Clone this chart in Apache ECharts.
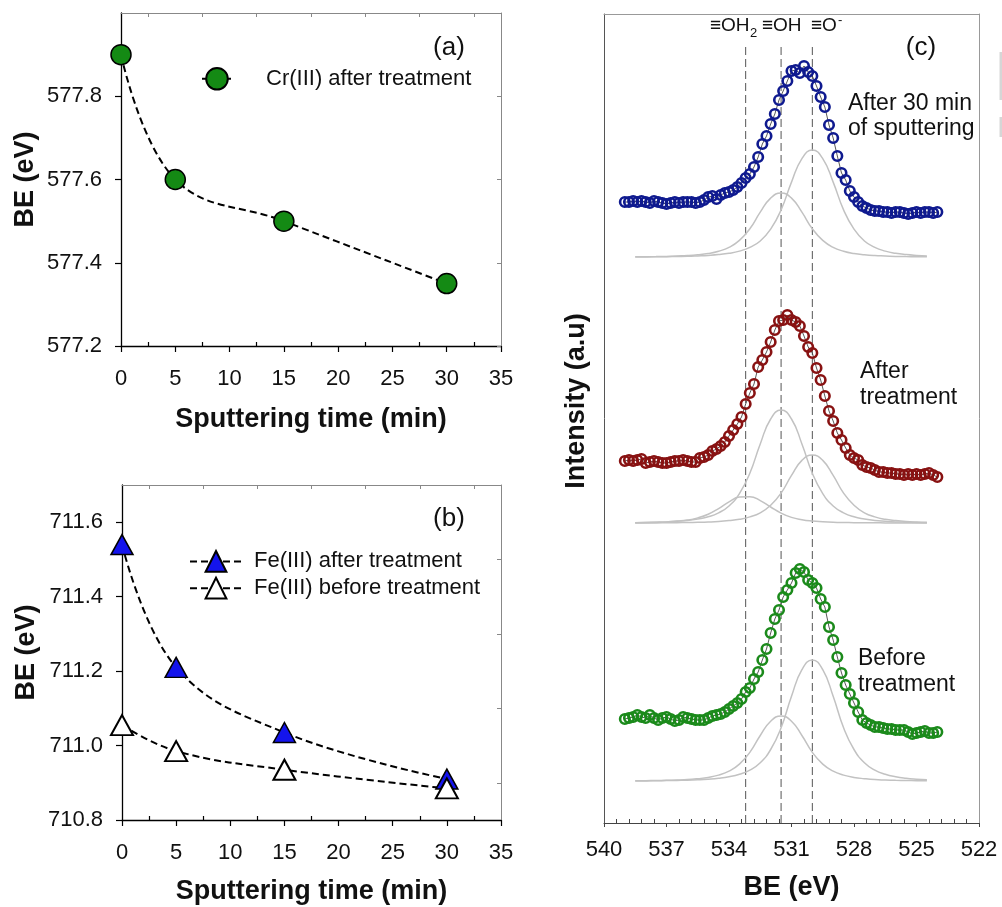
<!DOCTYPE html>
<html><head><meta charset="utf-8">
<script src="https://cdn.jsdelivr.net/npm/echarts@6/dist/echarts.min.js"></script>
<style>html,body{margin:0;padding:0;background:#fff}#c{width:1002px;height:907px}</style>
</head><body><div id="c"></div>
<script>
const FONT = '"Liberation Sans", Arial, sans-serif';

// ---- panel (a) ----
const sputterTime = [0, 5, 15, 30];
const crAfter = [577.90, 577.60, 577.50, 577.35];

// ---- panel (b) ----
const feAfter = [711.54, 711.21, 711.035, 710.91];
const feBefore = [711.055, 710.985, 710.935, 710.885];

// ---- panel (c) : O 1s spectra (arbitrary intensity, stacked) ----
const energies = [
  539.0,538.8,538.6,538.4,538.2,538.0,537.8,537.6,537.4,537.2,
  537.0,536.8,536.6,536.4,536.2,536.0,535.8,535.6,535.4,535.2,
  535.0,534.8,534.6,534.4,534.2,534.0,533.8,533.6,533.4,533.2,
  533.0,532.8,532.6,532.4,532.2,532.0,531.8,531.6,531.4,531.2,
  531.0,530.8,530.6,530.4,530.2,530.0,529.8,529.6,529.4,529.2,
  529.0,528.8,528.6,528.4,528.2,528.0,527.8,527.6,527.4,527.2,
  527.0,526.8,526.6,526.4,526.2,526.0,525.8,525.6,525.4,525.2,
  525.0,524.8,524.6,524.4,524.2,524.0];
const spec30min = [
  621,621,622,621,622,621,620,622,621,620,
  619,620,621,620,621,621,621,620,621,623,
  626,627,624,628,630,631,633,636,640,645,
  649,656,666,679,687,699,709,723,732,742,
  752,753,750,757,751,747,737,726,716,698,
  685,667,650,643,632,626,621,617,615,613,
  612,612,611,611,610,611,611,610,609,610,
  611,610,611,611,610,611];
const specAfter = [
  362,363,362,363,364,360,361,362,361,360,
  360,361,362,362,363,362,361,361,365,366,
  368,372,374,377,381,387,393,399,406,419,
  430,439,456,463,471,481,493,502,503,508,
  503,501,497,487,476,470,455,443,427,412,
  402,390,383,375,368,365,363,358,356,355,
  353,351,351,350,350,349,349,348,349,348,
  349,348,349,350,348,346];
const specBefore = [
  104,105,106,108,106,105,108,105,103,105,
  106,104,102,103,106,105,104,103,103,103,
  105,107,108,109,111,114,117,120,124,131,
  135,144,151,163,174,190,204,213,226,233,
  240,250,254,251,243,240,235,224,216,196,
  183,166,150,138,129,120,111,103,100,98,
  96,96,95,94,94,93,93,93,91,89,
  90,91,92,90,90,91];

// fitted components (height above each spectrum's fit baseline)
const fitEnergies = [538.5,538.0,537.5,537.0,536.5,536.0,535.5,535.0,534.5,534.0,
  533.5,533.0,532.5,532.0,531.5,531.0,530.5,530.0,529.5,529.0,
  528.5,528.0,527.5,527.0,526.5,526.0,525.5,525.0,524.5];
const base30min = 566, baseAfter = 300, baseBefore = 42;
const fit30minOH = [0.2,0.3,0.4,0.6,1,1.4,2.2,3.5,5.8,9.6,16.6,28.2,44.8,58.9,64,58.9,44.8,28.2,16.6,9.6,5.8,3.5,2.2,1.4,1,0.6,0.4,0.3,0.2];
const fit30minO  = [0.1,0.1,0.2,0.3,0.5,0.7,1.1,1.6,2.4,3.7,5.9,9.6,16,27.8,47.1,74.9,98.4,107,98.4,74.9,47.1,27.8,16,9.6,5.9,3.7,2.4,1.6,1.1];
const fitAfterOH2 = [0.3,0.5,0.7,1.1,1.9,2.9,5.1,8.8,14.4,21.1,25.9,26.3,22.4,16,9.9,5.6,3.3,2,1.3,0.8,0.5,0.3,0.2,0.2,0.1,0.1,0.1,0,0];
const fitAfterOH  = [0.3,0.6,0.8,1.1,1.7,2.5,4,6.2,10.2,17,29.4,49.7,79.1,104,113,104,79.1,49.7,29.4,17,10.2,6.2,4,2.5,1.7,1.1,0.8,0.6,0.3];
const fitAfterO   = [0.1,0.1,0.1,0.2,0.3,0.5,0.7,1,1.5,2.4,3.7,6.1,10.2,17.7,29.9,47.6,62.6,68,62.6,47.6,29.9,17.7,10.2,6.1,3.7,2.4,1.5,1,0.7];
const fitBeforeOH = [0.2,0.3,0.5,0.7,1,1.4,2.3,3.6,5.9,9.8,16.9,28.6,45.5,59.8,65,59.8,45.5,28.6,16.9,9.8,5.9,3.6,2.3,1.4,1,0.7,0.5,0.3,0.2];
const fitBeforeO  = [0.1,0.1,0.2,0.4,0.6,0.8,1.2,1.8,2.7,4.2,6.7,10.9,18.2,31.5,53.2,84.7,111.3,121,111.3,84.7,53.2,31.5,18.2,10.9,6.7,4.2,2.7,1.8,1.2];

const peakBE = [533.2, 531.5, 530.0];
const peakLineTop = 780;

// ---------------------------------------------------------------
const pairs = (xs, ys, off) => xs.map((x, i) => [x, ys[i] + (off || 0)]);
const txt = (size, weight) => ({fontSize: size, fontWeight: weight || 'normal', color: '#111', fontFamily: FONT});

function mainX(grid, min, max, interval, name, gap, margin, opts) {
  return Object.assign({
    gridIndex: grid, type: 'value', position: 'bottom', min, max, interval,
    axisLine: {show: true, onZero: false, lineStyle: {color: '#000', width: 1.3}},
    axisTick: {show: true, length: 6, lineStyle: {color: '#000', width: 1.2}},
    minorTick: {show: true, splitNumber: 2, length: -4, lineStyle: {color: '#000', width: 1.2}},
    axisLabel: Object.assign(txt(22), {margin: margin}),
    splitLine: {show: false}, minorSplitLine: {show: false},
    name, nameLocation: 'middle', nameGap: gap, nameTextStyle: txt(27, 'bold')
  }, opts || {});
}
function frameX(grid, min, max, interval, color, minor, split) {
  return {
    gridIndex: grid, type: 'value', position: 'top', min, max, interval,
    axisLine: {show: true, onZero: false, lineStyle: {color: color, width: 1}},
    axisTick: {show: true, length: 0},
    minorTick: {show: minor, splitNumber: split || 2, length: -4, lineStyle: {color: color, width: 1}},
    axisLabel: {show: false}, splitLine: {show: false}, minorSplitLine: {show: false}
  };
}
function mainY(grid, min, max, interval) {
  return {
    gridIndex: grid, type: 'value', min, max, interval,
    axisLine: {show: true, onZero: false, lineStyle: {color: '#000', width: 1.3}},
    axisTick: {show: true, length: 6, lineStyle: {color: '#000', width: 1.2}},
    axisLabel: Object.assign(txt(22), {margin: 19, showMaxLabel: false, formatter: v => v.toFixed(1)}),
    splitLine: {show: false},
    name: 'BE (eV)', nameLocation: 'middle', nameGap: 82, nameTextStyle: txt(27, 'bold')
  };
}

const dash = {color: '#000', width: 2, type: [7, 4]};

const series = [
  {type: 'line', name: 'Cr(III) after treatment', xAxisIndex: 0, yAxisIndex: 0,
   data: pairs(sputterTime, crAfter), smooth: 0.4, symbol: 'circle', symbolSize: 20,
   lineStyle: dash, itemStyle: {color: '#148a14', borderColor: '#000', borderWidth: 1.5}},
  {type: 'line', name: 'Fe(III) after treatment', xAxisIndex: 2, yAxisIndex: 2,
   data: pairs(sputterTime, feAfter), smooth: 0.4, symbol: 'triangle', symbolSize: [22, 20],
   lineStyle: dash, itemStyle: {color: '#1414ec', borderColor: '#000', borderWidth: 1.5}},
  {type: 'line', name: 'Fe(III) before treatment', xAxisIndex: 2, yAxisIndex: 2,
   data: pairs(sputterTime, feBefore), smooth: 0.4, symbol: 'triangle', symbolSize: [22, 20],
   lineStyle: dash, itemStyle: {color: '#fff', borderColor: '#000', borderWidth: 2}}
];

peakBE.forEach(e => series.push({
  type: 'line', xAxisIndex: 4, yAxisIndex: 4, data: [[e, 0], [e, peakLineTop]],
  symbol: 'none', lineStyle: {color: '#555', width: 1, type: [8, 4]}, z: 1, silent: true
}));

const fits = [
  [fit30minOH, base30min], [fit30minO, base30min],
  [fitAfterOH2, baseAfter], [fitAfterOH, baseAfter], [fitAfterO, baseAfter],
  [fitBeforeOH, baseBefore], [fitBeforeO, baseBefore]
];
fits.forEach(f => series.push({
  type: 'line', xAxisIndex: 4, yAxisIndex: 4, data: pairs(fitEnergies, f[0], f[1]),
  smooth: 0.5, symbol: 'none', lineStyle: {color: '#c2c2c2', width: 1.5}, z: 2, silent: true
}));

[[spec30min, '#0f1a8f'], [specAfter, '#881212'], [specBefore, '#1b8a1b']].forEach(s => series.push({
  type: 'line', xAxisIndex: 4, yAxisIndex: 4, data: pairs(energies, s[0]),
  symbol: 'circle', symbolSize: 9.5, showAllSymbol: true,
  lineStyle: {color: '#444', width: 0.9},
  itemStyle: {color: 'rgba(255,255,255,0)', borderColor: s[1], borderWidth: 2.6}, z: 3
}));

const T = (text, x, y, size, opts) => ({
  type: 'text', x, y, silent: true,
  style: Object.assign({text, fontSize: size, fontFamily: FONT, fill: '#111', align: 'left', verticalAlign: 'middle'}, opts || {})
});

const option = {
  animation: false,
  backgroundColor: '#fff',
  grid: [
    {left: 121, top: 13, width: 380, height: 333, outerBoundsMode: 'none', containLabel: false},
    {left: 122, top: 485, width: 379, height: 335, outerBoundsMode: 'none', containLabel: false},
    {left: 604, top: 14, width: 375, height: 809, outerBoundsMode: 'none', containLabel: false}
  ],
  xAxis: [
    mainX(0, 0, 35, 5, 'Sputtering time (min)', 60, 22),
    frameX(0, 0, 35, 5, '#888', true, 2),
    mainX(1, 0, 35, 5, 'Sputtering time (min)', 58, 22),
    frameX(1, 0, 35, 5, '#888', true, 2),
    mainX(2, 522, 540, 3, 'BE (eV)', 51, 16, {
      inverse: true,
      axisLine: {show: true, onZero: false, lineStyle: {color: '#444', width: 1}},
      axisTick: {show: true, length: 4, lineStyle: {color: '#444', width: 1}},
      minorTick: {show: true, splitNumber: 5, length: -4, lineStyle: {color: '#444', width: 1}}
    }),
    frameX(2, 522, 540, 3, '#999', false, 2)
  ],
  yAxis: [
    mainY(0, 577.2, 578.0, 0.2),
    {gridIndex: 0, type: 'value', position: 'right', min: 577.2, max: 578.0, interval: 0.2,
     axisLine: {show: true, onZero: false, lineStyle: {color: '#888', width: 1}},
     axisTick: {show: true, inside: true, length: 4, lineStyle: {color: '#888'}},
     axisLabel: {show: false}, splitLine: {show: false}},
    mainY(1, 710.8, 711.7, 0.2),
    {gridIndex: 1, type: 'value', position: 'right', min: 710.8, max: 711.7, interval: 0.2,
     axisLine: {show: true, onZero: false, lineStyle: {color: '#888', width: 1}},
     axisTick: {show: true, length: 0},
     minorTick: {show: true, splitNumber: 2, length: -4, lineStyle: {color: '#888'}},
     axisLabel: {show: false}, splitLine: {show: false}, minorSplitLine: {show: false}},
    {gridIndex: 2, type: 'value', min: 0, max: 809,
     axisLine: {show: true, onZero: false, lineStyle: {color: '#555', width: 1}},
     axisTick: {show: false}, axisLabel: {show: false}, splitLine: {show: false}},
    {gridIndex: 2, type: 'value', position: 'right', min: 0, max: 809,
     axisLine: {show: true, onZero: false, lineStyle: {color: '#999', width: 1}},
     axisTick: {show: false}, axisLabel: {show: false}, splitLine: {show: false}}
  ],
  legend: [
    {data: ['Cr(III) after treatment'], left: 201, top: 67, orient: 'vertical',
     itemWidth: 30, itemHeight: 27, padding: 0, selectedMode: false,
     formatter: n => '{sp|}' + n,
     textStyle: Object.assign(txt(22), {rich: {sp: {width: 29}}})},
    {data: ['Fe(III) after treatment', 'Fe(III) before treatment'], left: 189, top: 550, orient: 'vertical',
     itemWidth: 52, itemHeight: 26, itemGap: 4, padding: 0, selectedMode: false,
     formatter: n => '{sp|}' + n,
     textStyle: Object.assign(txt(22), {rich: {sp: {width: 7}}})}
  ],
  graphic: [
    T('(a)', 449, 47.5, 26, {align: 'center'}),
    T('(b)', 449, 518.5, 26, {align: 'center'}),
    T('(c)', 921, 47.5, 26, {align: 'center'}),
    T('After 30 min\nof sputtering', 848, 116, 23, {lineHeight: 25}),
    T('After\ntreatment', 860, 385, 23, {lineHeight: 26}),
    T('Before\ntreatment', 858, 672, 23, {lineHeight: 26}),
    T('\u2261OH', 710, 26, 19),
    T('2', 750, 33, 13),
    T('\u2261OH', 762, 26, 19),
    T('\u2261O', 811, 26, 19),
    T('-', 838, 20, 13),
    Object.assign(T('Intensity (a.u)', 577, 401, 27, {align: 'center', fontWeight: 'bold'}), {rotation: Math.PI / 2}),
    {type: 'rect', shape: {x: 999.5, y: 52, width: 3, height: 48}, style: {fill: '#d6d6d6'}, silent: true},
    {type: 'rect', shape: {x: 999.5, y: 117, width: 3, height: 20}, style: {fill: '#d6d6d6'}, silent: true}
  ],
  series
};

const chart = echarts.init(document.getElementById('c'), null, {renderer: 'canvas'});
chart.setOption(option);
</script>
</body></html>
